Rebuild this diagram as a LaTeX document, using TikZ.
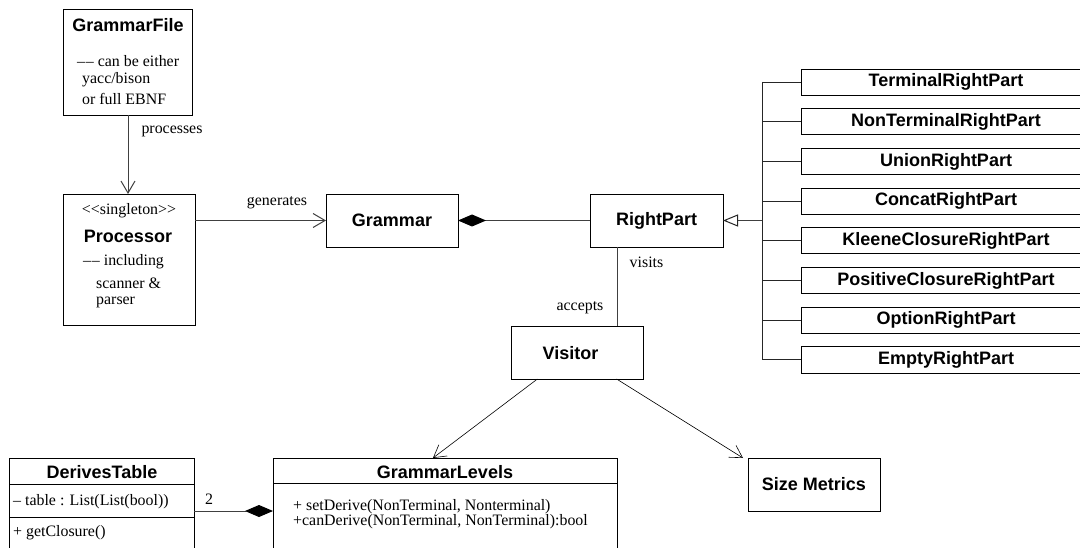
\documentclass[tikz,border=0pt]{standalone}
\usepackage{fontspec}
\setmainfont{Liberation Serif}
\newfontfamily\classfont{Liberation Sans}
\usetikzlibrary{arrows.meta,calc}
\newcommand{\dashdash}{\textendash\kern0.8pt\textendash}
\begin{document}
\begin{tikzpicture}[x=1pt,y=-1pt,
  box/.style={draw=black, line width=0.8pt, anchor=north west, inner sep=0pt, outer sep=0pt},
  title/.style={font=\classfont\bfseries\fontsize{18}{21}\selectfont, inner sep=0pt},
  note/.style={font=\fontsize{15.9}{18}\selectfont, inner sep=0pt},
  assoc/.style={draw=black!75, line width=1pt},
  tree/.style={draw=black!85, line width=0.8pt},
  dep/.style={draw=black, line width=0.6pt},
  openhead/.style={-{Straight Barb[length=12pt,width=14pt]}},
  compose/.style={-{Diamond[length=28pt,width=12pt,color=black,fill=black]}},
  inherit/.style={-{Triangle[open,length=15pt,width=12pt,fill=white,color=black!85]}},
]
% canvas
\fill[white] (0,0) rectangle (1080,548);
\useasboundingbox (0,0) rectangle (1080,548);

% ---- GrammarFile ----
\node[box, minimum width=129pt, minimum height=106pt] (gf) at (63,9) {};
\node[title] (gft) at (128,25) {GrammarFile};
\node[note, anchor=west] (gf1) at (77,61.5) {\dashdash\ can be either};
\node[note, anchor=west] (gf2) at (82,80) {yacc/bison};
\node[note, anchor=west] (gf3) at (82,98.5) {or full EBNF};

% ---- Processor ----
\node[box, minimum width=132pt, minimum height=131pt] (proc) at (63,194) {};
\node[note] (pst) at (129,211) {<{}<singleton>{}>};
\node[title] (pt) at (128,236) {Processor};
\node[note, anchor=west] (p1) at (83,262) {\dashdash\ including};
\node[note, anchor=west] (p2) at (96,283) {scanner \&};
\node[note, anchor=west] (p3) at (96,302) {parser};

% ---- Grammar, RightPart, Visitor, Size Metrics ----
\node[box, title, minimum width=132pt, minimum height=53pt] (gram) at (326,194) {Grammar};
\node[box, title, minimum width=133pt, minimum height=53pt] (rp) at (590,194) {RightPart};
\node[box, minimum width=132pt, minimum height=53pt] (vis) at (511,326) {};
\node[title] (vist) at (570.5,353) {Visitor};
\node[box, title, minimum width=132pt, minimum height=53pt] (sm) at (748,458) {Size Metrics};

% ---- RightPart subclasses ----
\foreach \lbl [count=\i] in {TerminalRightPart,NonTerminalRightPart,UnionRightPart,
  ConcatRightPart,KleeneClosureRightPart,PositiveClosureRightPart,OptionRightPart,EmptyRightPart}
  \node[box, title, minimum width=290pt, minimum height=26pt] (s\i) at (801,{69+39.7*(\i-1)}) {\lbl};

% ---- DerivesTable ----
\node[box, minimum width=184.5pt, minimum height=110pt] (dt) at (9.5,458) {};
\draw[box] (dt.west |- 0,484) -- (dt.east |- 0,484);
\draw[box] (dt.west |- 0,517) -- (dt.east |- 0,517);
\node[title] (dtt) at (102,472) {DerivesTable};
\node[note, anchor=west] (dt1) at (13,502) {\textendash\ table : List(List(bool))};
\node[note, anchor=west] (dt2) at (13,533) {+ getClosure()};

% ---- GrammarLevels ----
\node[box, minimum width=344pt, minimum height=110pt] (gl) at (273,458) {};
\draw[box] (gl.west |- 0,483) -- (gl.east |- 0,483);
\node[title] (glt) at (445,472) {GrammarLevels};
\node[note, anchor=west] (gl1) at (293,507) {+ setDerive(NonTerminal, Nonterminal)};
\node[note, anchor=west] (gl2) at (293,522) {+canDerive(NonTerminal, NonTerminal):bool};

% ---- connectors ----
\draw[assoc, openhead] (gf.south -| 128,0) -- (proc.north -| 128,0);
\node[note] (lproc) at (172,131) {processes};

\draw[assoc, openhead] (proc.east |- gram.west) -- (gram.west);
\node[note] (lgen) at (277,203) {generates};

\draw[assoc, compose] (rp.west) -- (gram.east);

\coordinate (bus) at (762,220.5);
\draw[assoc, inherit] (bus) -- (rp.east);
\draw[tree] (s1.west -| bus) -- (s8.west -| bus);
\foreach \i in {1,...,8}
  \draw[tree] (s\i.west -| bus) -- (s\i.west);

\coordinate (vx) at (617,0);
\draw[assoc] (rp.south -| vx) -- (vis.north -| vx);
\node[note] (lvisits) at (646.5,262) {visits};
\node[note] (laccepts) at (580,308) {accepts};

\draw[dep, openhead] ($(vis.south west)!0.2!(vis.south east)$) -- ($(gl.north west)!0.465!(gl.north east)$);
\draw[dep, openhead] ($(vis.south west)!0.8!(vis.south east)$) -- ([xshift=-5pt]sm.north west);

\coordinate (cy) at (0,511);
\draw[assoc, compose] (dt.east |- cy) -- (gl.west |- cy);
\node[note] (lmult) at (209,499) {2};
\end{tikzpicture}
\end{document}
